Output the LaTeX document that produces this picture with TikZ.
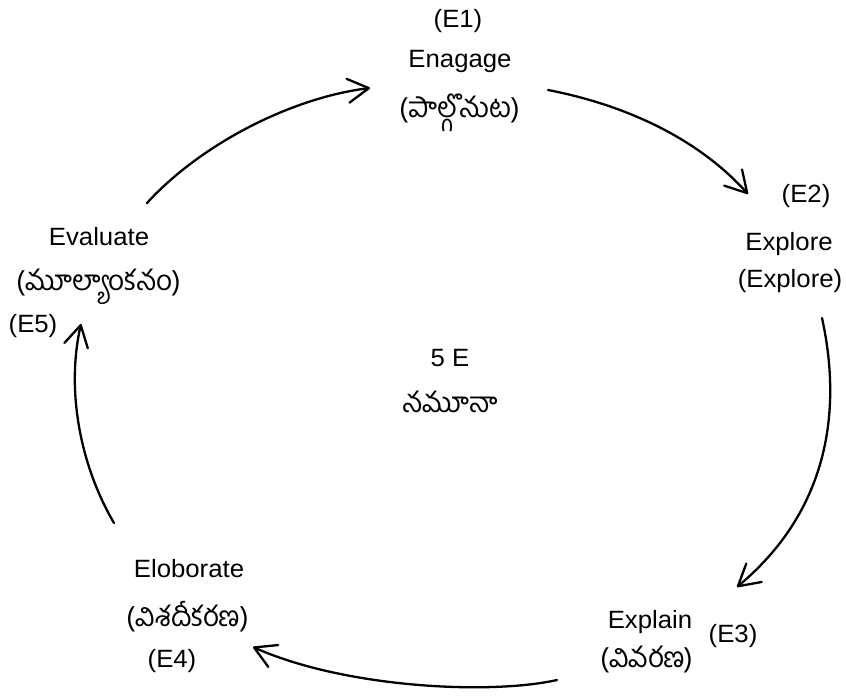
\documentclass[tikz,border=0pt]{standalone}
\usepackage{fontspec}
\setmainfont{Liberation Sans}[FakeStretch=1.03]
\newfontfamily\tefont[Script=Telugu]{Hind Guntur}
\usetikzlibrary{arrows.meta}
\begin{document}
\begin{tikzpicture}[x=1pt,y=-1pt,
  lbl/.style={font=\fontsize{25}{30}\selectfont, inner sep=0pt, anchor=base},
  tel/.style={font=\fontsize{28}{32}\selectfont\tefont, inner sep=0pt, anchor=center},
  cyc/.style={line width=2.3pt, line cap=round, -{Straight Barb[length=21pt,width=24pt,line cap=round,line join=round]}}]
\useasboundingbox (0,0) rectangle (846,698);
% Engage
\node[lbl] (e1) at (458,28) {(E1)};
\node[lbl] (eng) at (460,68) {Enagage};
\node[tel] (engt) at (460,113) {(పాల్గొనుట)};
% Explore
\node[lbl] (e2) at (806,202) {(E2)};
\node[lbl] (exp) at (789,250) {Explore};
\node[lbl] (expt) at (790,287) {(Explore)};
% Explain
\node[lbl] (e3) at (733,642) {(E3)};
\node[lbl] (expl) at (650,628) {Explain};
\node[tel] (explt) at (647,660) {(వివరణ)};
% Elaborate
\node[lbl] (elab) at (189,577) {Eloborate};
\node[tel] (elabt) at (188,617) {(విశదీకరణ)};
\node[lbl] (e4) at (172,667) {(E4)};
% Evaluate
\node[lbl] (eval) at (99,245) {Evaluate};
\node[tel] (evalt) at (99,287) {(మూల్యాంకనం)};
\node[lbl] (e5) at (33,332) {(E5)};
% centre
\node[lbl] (c1) at (450,366) {5 E};
\node[tel] (c2) at (450,402) {నమూనా};
% arrow end points
\coordinate (a1s) at (147,203); \coordinate (a1e) at (370,88);
\coordinate (a2s) at (548,90);  \coordinate (a2e) at (748,194);
\coordinate (a3s) at (822,318); \coordinate (a3e) at (737,587);
\coordinate (a4s) at (557,680); \coordinate (a4e) at (253,647);
\coordinate (a5s) at (114,523); \coordinate (a5e) at (81,324);
\draw[cyc] (a1s) .. controls (200,145) and (290,98) .. (a1e);
\draw[cyc] (a2s) .. controls (610,102) and (690,130) .. (a2e);
\draw[cyc] (a3s) .. controls (840,400) and (835,505) .. (a3e);
\draw[cyc] (a4s) .. controls (490,695) and (345,688) .. (a4e);
\draw[cyc] (a5s) .. controls (80,465) and (66,390) .. (a5e);
\end{tikzpicture}
\end{document}
